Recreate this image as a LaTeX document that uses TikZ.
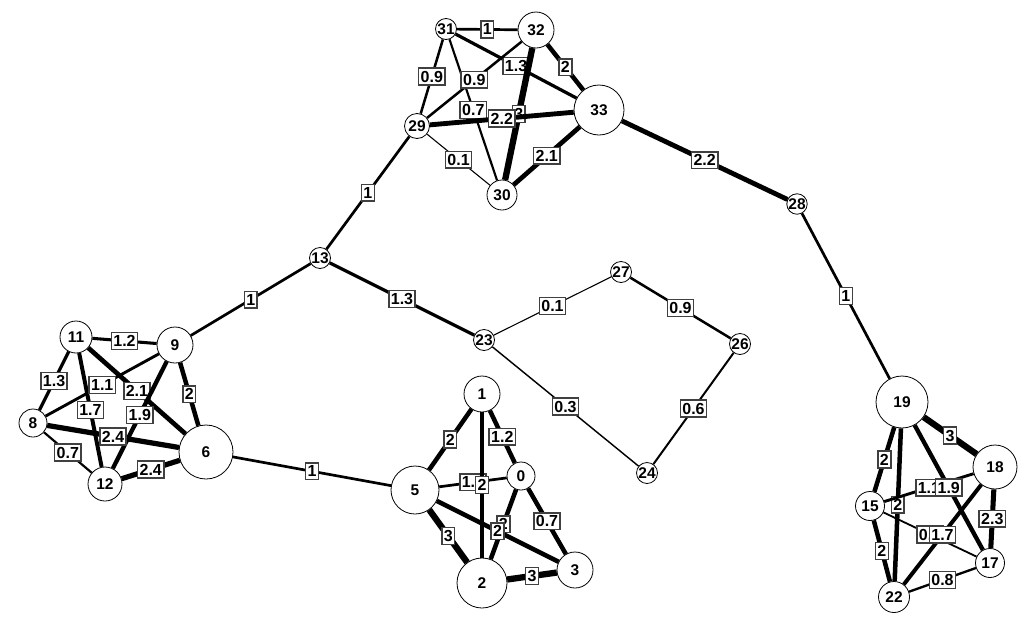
\documentclass[tikz,border=0pt]{standalone}
\usepackage{fontspec}
\setmainfont{Liberation Sans}
\usetikzlibrary{positioning}

\begin{document}
\begin{tikzpicture}[
    x=1pt, y=-1pt,
    vertex/.style={circle, draw, fill=white, line width=0.8pt, inner sep=0pt, font=\bfseries\fontsize{15.5}{15.5}\selectfont},
    wlabel/.style={rectangle, draw=black!75, fill=white, line width=1.5pt, inner xsep=2pt, inner ysep=2.8pt, font=\bfseries\fontsize{16}{16}\selectfont}
]
\useasboundingbox (0,0) rectangle (1032,627);

% Nodes
\foreach \n/\x/\y/\d in {31/446/29/21, 32/536/30/36, 33/599/110/50, 29/417/126/25,
    30/502/195/30, 28/797/204/19, 13/320/258/21, 27/621/272/21, 23/484/340/21,
    26/740/344/21, 24/647/473/21, 11/76/337/32, 9/175/345/36, 8/33/423/28,
    6/206/452/54, 12/105/484/34, 1/482/394/36, 0/521/476/28, 5/415/490/48,
    2/482/583/50, 3/575/570/36, 19/902/402/52, 18/995/467/44, 15/870/506/29,
    17/990/563/29, 22/894/597/31}
  \node[vertex, minimum size=\d*1pt] (\n) at (\x,\y) {\n};

% Edges
\foreach \a/\b/\w/\t in {31/32/1/1, 31/33/1.3/1.3, 31/29/0.9/0.9, 31/30/0.7/0.7,
    32/29/0.9/0.9, 32/33/2/2, 32/30/3/3, 29/33/2.2/2.2, 29/30/0.1/0.1,
    30/33/2.1/2.1, 29/13/1/1, 33/28/2.2/2.2, 28/19/1/1, 13/9/1/1,
    13/23/1.3/1.3, 23/27/0.1/0.1, 27/26/0.9/0.9, 26/24/0.6/0.6,
    23/24/0.3/0.3, 6/5/1/1}
  \draw[line width={0.9pt+1.8pt*\w}] (\a) -- node[wlabel] {\t} (\b);

% left group
\foreach \a/\b/\w/\t in {11/9/1.2/1.2, 11/8/1.3/1.3, 11/12/1.7/1.7, 9/8/1.1/1.1,
    11/6/2.1/2.1, 9/12/1.9/1.9, 9/6/2/2, 8/6/2.4/2.4, 8/12/0.7/0.7, 12/6/2.4/2.4}
  \draw[line width={0.9pt+1.8pt*\w}] (\a) -- node[wlabel] {\t} (\b);

% bottom group
\foreach \a/\b/\w/\t in {1/5/2/2, 1/0/2/1.2, 5/0/1/1.2, 1/2/2/2, 5/2/3/3,
    0/2/2/2, 5/3/2/2, 0/3/2/0.7, 2/3/3/3}
  \draw[line width={0.9pt+1.8pt*\w}] (\a) -- node[wlabel] {\t} (\b);

% right group
\foreach \a/\b/\w/\t in {19/18/3/3, 19/15/2/2, 19/22/2/2, 15/18/1.1/1.1,
    19/17/1.9/1.9, 15/22/2/2, 15/17/0.5/0.5, 18/22/1.7/1.7, 18/17/2.3/2.3,
    22/17/0.8/0.8}
  \draw[line width={0.9pt+1.8pt*\w}] (\a) -- node[wlabel] {\t} (\b);

\end{tikzpicture}
\end{document}
